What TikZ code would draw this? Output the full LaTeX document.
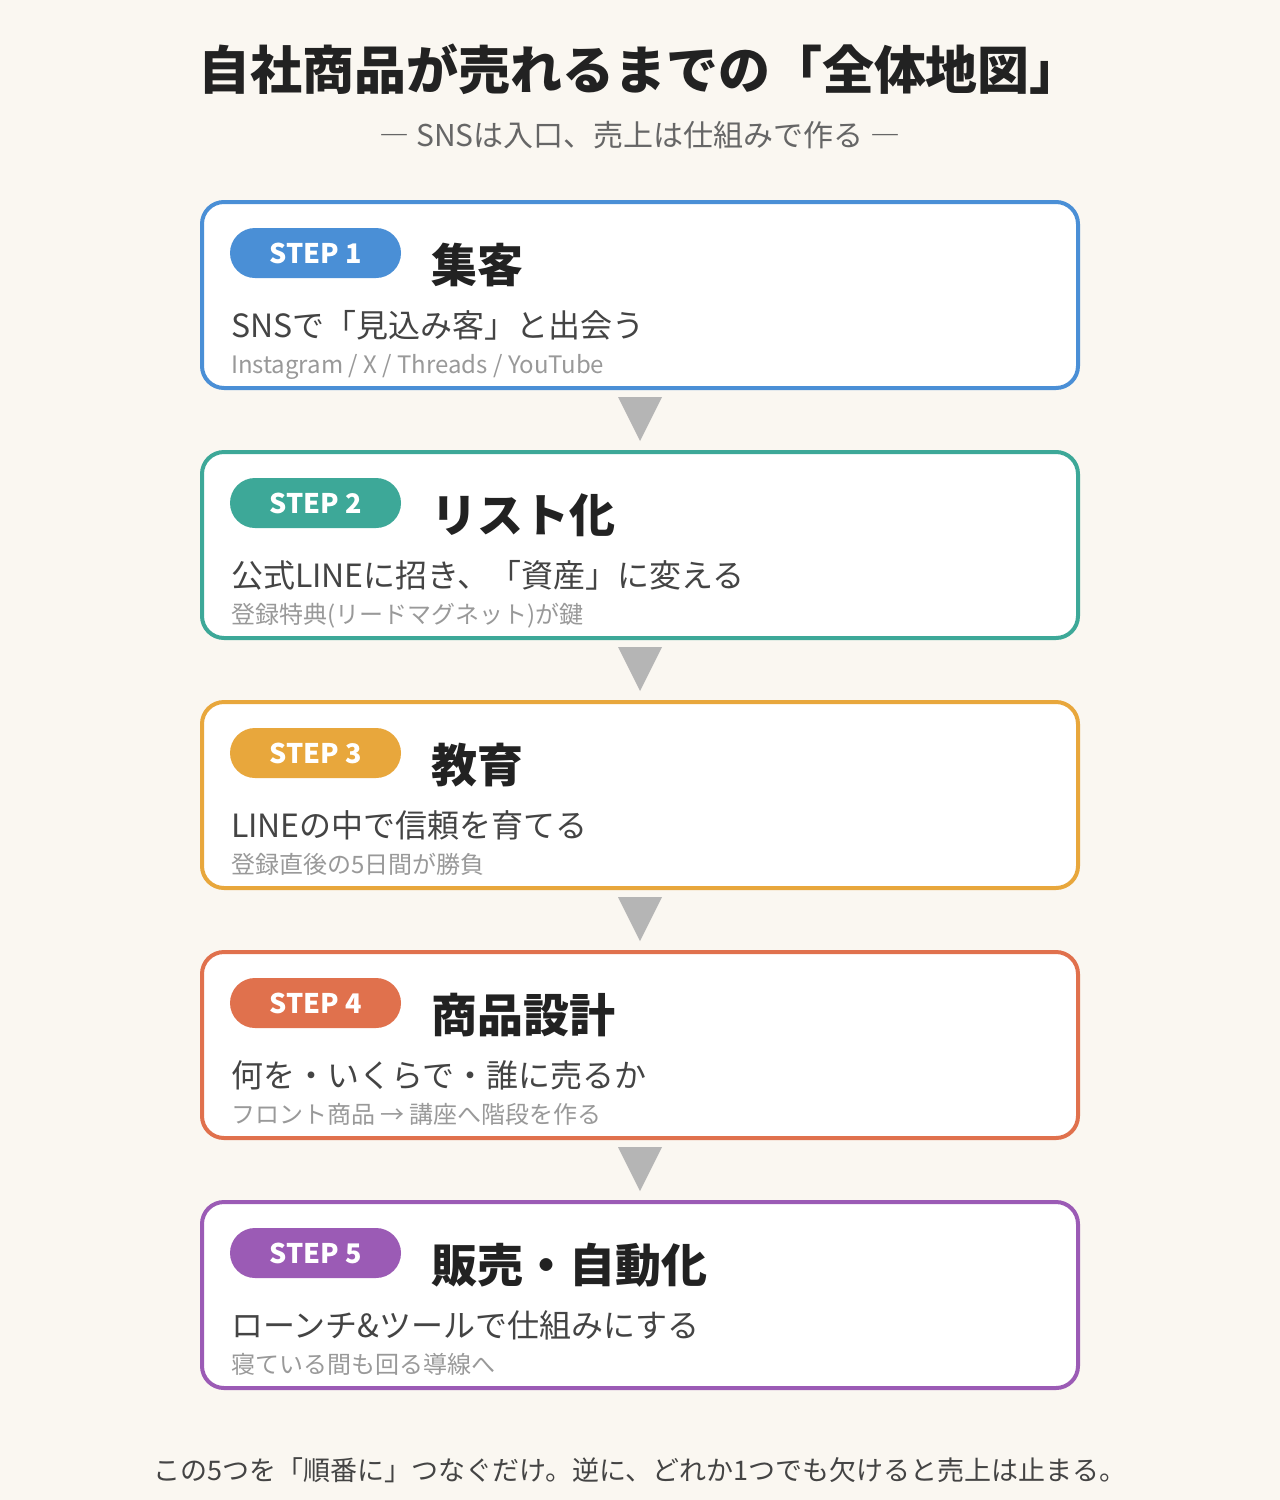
\documentclass[tikz,border=0pt]{standalone}
\usepackage{fontspec}
\setmainfont{Noto Sans CJK JP}
\usetikzlibrary{calc}

\definecolor{bgcream}{HTML}{FAF7F1}
\definecolor{stepblue}{HTML}{4A8FD6}
\definecolor{stepteal}{HTML}{3DA898}
\definecolor{steporange}{HTML}{E8A73C}
\definecolor{stepred}{HTML}{E0714D}
\definecolor{steppurple}{HTML}{9B5BB5}
\definecolor{titleink}{HTML}{222222}
\definecolor{bodyink}{HTML}{444444}
\definecolor{subink}{HTML}{666666}
\definecolor{noteink}{HTML}{999999}
\definecolor{arrowgray}{HTML}{B5B5B5}

\newcommand{\pxfont}[1]{\fontsize{#1}{#1}\selectfont}

\begin{document}
\begin{tikzpicture}[x=1pt,y=-1pt,inner sep=0pt,outer sep=0pt,
stepbox/.style={draw,rectangle,rounded corners=22pt,line width=4pt,fill=white,minimum width=876pt,minimum height=186pt},
badge/.style={rectangle,rounded corners=25pt,minimum width=171pt,minimum height=50pt,text=white,font=\pxfont{27}\bfseries},
heading/.style={anchor=base west,text=titleink,font=\pxfont{46}\bfseries},
subline/.style={anchor=base west,text=bodyink,font=\pxfont{32}},
noteline/.style={anchor=base west,text=noteink,font=\pxfont{24}}]

%%% Background and page size %%%%%
\fill[bgcream] (0,0) rectangle (1280,1500);

%%% Title %%%%%
\draw (640,89) node[anchor=base,text=titleink,font=\pxfont{52}\bfseries] (title) {自社商品が売れるまでの「全体地図」};
\draw (640,146) node[anchor=base,text=subink,font=\pxfont{30}] (subtitle) {― SNSは入口、売上は仕組みで作る ―};

%%% Step 1 %%%%%
\draw (640,295) node[stepbox,draw=stepblue] (box1) {};
\draw (315.5,253) node[badge,fill=stepblue] (badge1) {STEP 1};
\draw (431,282.5) node[heading] (head1) {集客};
\draw (231,337) node[subline] (sub1) {SNSで「見込み客」と出会う};
\draw (231,373) node[noteline] (note1) {Instagram / X / Threads / YouTube};

%%% Step 2 %%%%%
\draw (640,545) node[stepbox,draw=stepteal] (box2) {};
\draw (315.5,503) node[badge,fill=stepteal] (badge2) {STEP 2};
\draw (431,532.5) node[heading] (head2) {リスト化};
\draw (231,587) node[subline] (sub2) {公式LINEに招き、「資産」に変える};
\draw (231,623) node[noteline] (note2) {登録特典(リードマグネット)が鍵};

%%% Step 3 %%%%%
\draw (640,795) node[stepbox,draw=steporange] (box3) {};
\draw (315.5,753) node[badge,fill=steporange] (badge3) {STEP 3};
\draw (431,782.5) node[heading] (head3) {教育};
\draw (231,837) node[subline] (sub3) {LINEの中で信頼を育てる};
\draw (231,873) node[noteline] (note3) {登録直後の5日間が勝負};

%%% Step 4 %%%%%
\draw (640,1045) node[stepbox,draw=stepred] (box4) {};
\draw (315.5,1003) node[badge,fill=stepred] (badge4) {STEP 4};
\draw (431,1032.5) node[heading] (head4) {商品設計};
\draw (231,1087) node[subline] (sub4) {何を・いくらで・誰に売るか};
\draw (231,1123) node[noteline] (note4) {フロント商品 → 講座へ階段を作る};

%%% Step 5 %%%%%
\draw (640,1295) node[stepbox,draw=steppurple] (box5) {};
\draw (315.5,1253) node[badge,fill=steppurple] (badge5) {STEP 5};
\draw (431,1282.5) node[heading] (head5) {販売・自動化};
\draw (231,1337) node[subline] (sub5) {ローンチ\&ツールで仕組みにする};
\draw (231,1373) node[noteline] (note5) {寝ている間も回る導線へ};

%%% Down triangles between the boxes
\fill[arrowgray] ($(box1.south)+(-22,9)$) -- ++(44,0) -- ++(-22,44) -- cycle;
\fill[arrowgray] ($(box2.south)+(-22,9)$) -- ++(44,0) -- ++(-22,44) -- cycle;
\fill[arrowgray] ($(box3.south)+(-22,9)$) -- ++(44,0) -- ++(-22,44) -- cycle;
\fill[arrowgray] ($(box4.south)+(-22,9)$) -- ++(44,0) -- ++(-22,44) -- cycle;

%%% Closing line
\draw (640,1480) node[anchor=base,text=bodyink,font=\pxfont{27}] (closing) {この5つを「順番に」つなぐだけ。逆に、どれか1つでも欠けると売上は止まる。};

\end{tikzpicture}
\end{document}
